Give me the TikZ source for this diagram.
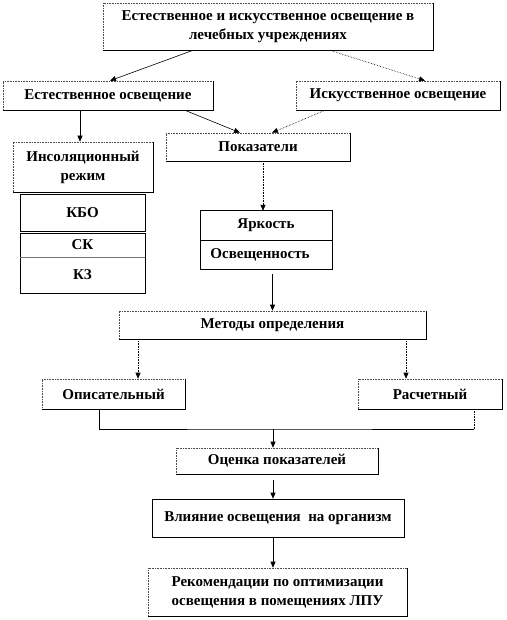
\documentclass[tikz,border=0pt]{standalone}
\usepackage{fontspec}
\setmainfont{Liberation Serif}
\usetikzlibrary{arrows.meta}
\begin{document}
\begin{tikzpicture}[x=1pt,y=-1pt,
  txt/.style={font=\fontsize{15}{19}\selectfont\bfseries, align=center, inner sep=0pt},
  box/.style={txt, draw=black!70, densely dotted, line width=0.6pt},
  sbox/.style={txt, draw=black, line width=0.6pt},
  plain/.style={txt},
  ln/.style={draw=black, line width=0.6pt},
  solidarr/.style={ln, -{Triangle[length=6pt,width=5pt]}},
  dotarr/.style={ln, densely dotted, -{Triangle[length=6pt,width=5pt]}},
  shedge/.style={draw=black, line width=0.7pt, solid}]
\useasboundingbox[fill=white] (0,0) rectangle (506,620);

% boxes
\node[box, minimum width=330, minimum height=47] (top) at (268,26.5)
  {Естественное и искусственное освещение в\\лечебных учреждениях};
\node[box, minimum width=210, minimum height=29] (left) at (108,95.5) {Естественное освещение};
\node[box, minimum width=204, minimum height=29] (right) at (398,95.5) {Искусственное освещение};
\node[box, minimum width=184, minimum height=28] (pok) at (258,147) {Показатели};
\node[box, minimum width=140, minimum height=50] (insol) at (83,167) {Инсоляционный\\режим};

\node[plain, minimum width=125, minimum height=36] (kbo) at (82.5,213) {КБО};
\node[plain, minimum width=125, minimum height=24] (sk) at (82.5,245) {СК};
\node[plain, minimum width=125, minimum height=36] (kz) at (82.5,275) {КЗ};
\draw[ln] (kbo.north west) rectangle (kbo.south east);
\draw[ln] (sk.north west) rectangle (kz.south east);
\draw[draw=black!55, line width=0.8pt] (sk.south west) -- (sk.south east);

\node[plain, minimum width=132, minimum height=29] (yark) at (266,225.5) {Яркость};
\node[plain, minimum width=132, minimum height=29] (osv) at (266,254.5) {\hspace*{-12pt}Освещенность};
\draw[ln] (yark.north west) rectangle (osv.south east);
\draw[ln] (yark.south west) -- (yark.south east);

\node[box, minimum width=307, minimum height=28] (methods) at (272.5,325) {Методы определения};
\node[box, minimum width=143, minimum height=30] (opis) at (113.5,394) {Описательный};
\node[box, minimum width=144, minimum height=30] (rasch) at (430,394) {Расчетный};
\node[box, minimum width=202, minimum height=26] (otsenka) at (277,461) {Оценка показателей};
\node[sbox, minimum width=252, minimum height=38] (vl) at (278,518) {Влияние освещения\ \ на организм};
\node[box, minimum width=259, minimum height=48] (rec) at (277.5,592)
  {Рекомендации по оптимизации\\освещения в помещениях ЛПУ};

\foreach \n in {top,left,right,pok,insol,methods,opis,rasch,otsenka,rec}
  \draw[shedge] (\n.north east) -- (\n.south east) -- (\n.south west);

% connectors
\draw[solidarr] ([xshift=-75pt]top.south) -- ([xshift=2pt]left.north);
\draw[dotarr] ([xshift=62pt]top.south) -- ([xshift=27pt]right.north);
\draw[solidarr] ([xshift=-28pt]left.south) -- ([xshift=-28pt]left.south |- insol.north);
\draw[solidarr] ([xshift=77pt]left.south) -- ([xshift=-18pt]pok.north);
\draw[dotarr] ([xshift=-73pt]right.south) -- ([xshift=14pt]pok.north);
\draw[dotarr] ([xshift=5pt]pok.south) -- ([xshift=5pt]pok.south |- yark.north);
\draw[solidarr] ([yshift=-5pt]osv.south -| methods.north) -- (methods.north);
\draw[dotarr] ([xshift=-134.5pt]methods.south) -- ([xshift=-134.5pt]methods.south |- opis.north);
\draw[dotarr] ([xshift=133.5pt]methods.south) -- ([xshift=133.5pt]methods.south |- rasch.north);
\coordinate (j) at (273,429);
\coordinate (jr) at (474,429);
\draw[ln] ([xshift=-14.5pt]opis.south) |- (j) -- (jr);
\draw[ln, densely dotted] (jr) -- (jr |- rasch.south);
\draw[solidarr] (j) -- (j |- otsenka.north);
\draw[solidarr] ([yshift=-6pt]otsenka.south -| j) -- (j |- vl.north);
\draw[solidarr] (vl.south -| j) -- (j |- rec.north);
\end{tikzpicture}
\end{document}
